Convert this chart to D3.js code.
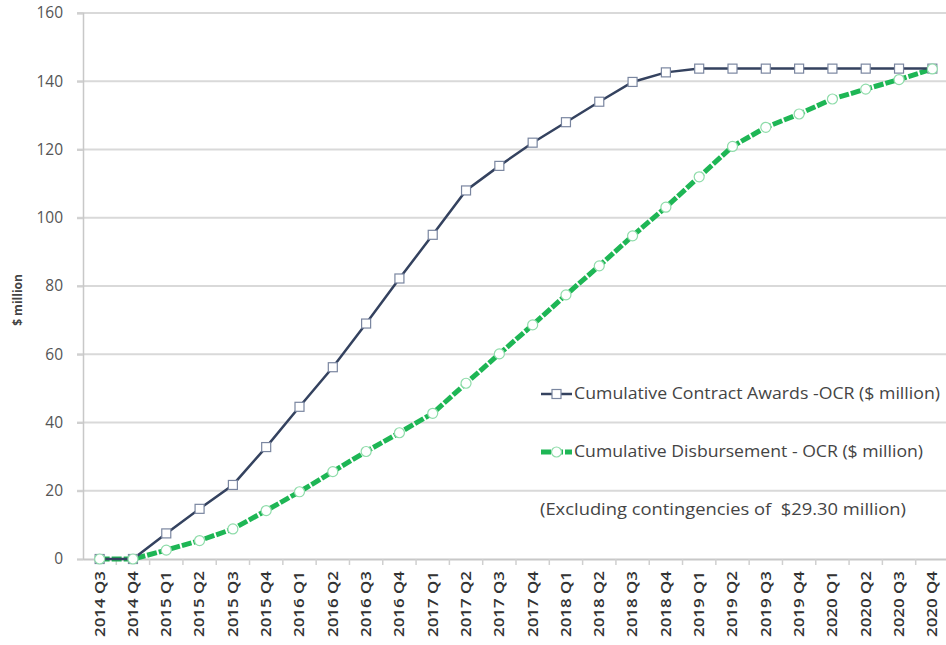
<!DOCTYPE html>
<html><head><meta charset="utf-8">
<script src="https://cdn.jsdelivr.net/npm/d3@7/dist/d3.min.js"></script>
<style>body{margin:0;background:#fff}svg{display:block}</style>
</head><body><svg id="c" width="946" height="645"></svg>
<script>
const quarters = ["2014 Q3","2014 Q4","2015 Q1","2015 Q2","2015 Q3","2015 Q4","2016 Q1","2016 Q2","2016 Q3","2016 Q4","2017 Q1","2017 Q2","2017 Q3","2017 Q4","2018 Q1","2018 Q2","2018 Q3","2018 Q4","2019 Q1","2019 Q2","2019 Q3","2019 Q4","2020 Q1","2020 Q2","2020 Q3","2020 Q4"];
const contractAwards = [0,0,7.5,14.7,21.7,32.8,44.6,56.2,69.0,82.2,95.0,108.0,115.2,122.0,128.0,134.0,139.8,142.6,143.7,143.7,143.7,143.7,143.7,143.7,143.7,143.7];
const disbursement = [0,0,2.6,5.4,8.8,14.2,19.7,25.6,31.5,37.0,42.7,51.5,60.1,68.6,77.4,85.9,94.7,103.1,112.0,120.9,126.5,130.4,134.8,137.7,140.5,143.6];
const yTicks = [0,20,40,60,80,100,120,140,160];
const seriesNames = ["Cumulative Contract Awards -OCR ($ million)","Cumulative Disbursement - OCR ($ million)"];
const note = "(Excluding contingencies of  $29.30 million)";
const yTitle = "$ million";

(function(){
const svg = d3.select("#c");
const font = "'Open Sans', sans-serif";
const pL = 83, pR = 949, pT = 13, pB = 559;
const x = d3.scaleBand().domain(quarters).range([pL, pR]);
const y = d3.scaleLinear().domain([0,160]).range([pB, pT]);

// gridlines
svg.append("g").selectAll("line").data(yTicks.filter(d=>d>0)).join("line")
  .attr("x1", pL-6).attr("x2", 946).attr("y1", d=>y(d)).attr("y2", d=>y(d))
  .attr("stroke","#d9d9d9").attr("stroke-width",2);

// y axis
const ya = svg.append("g").attr("transform",`translate(${pL},0)`)
  .call(d3.axisLeft(y).tickValues(yTicks).tickSize(6).tickPadding(14));
ya.select(".domain").attr("stroke","#c8c8c8").attr("stroke-width",1.5);
ya.selectAll(".tick line").attr("stroke","#d0d0d0").attr("stroke-width",2);
ya.selectAll("text").attr("font-family",font).attr("font-size",15.5).attr("fill","#555");

// x axis
const xa = svg.append("g").attr("transform",`translate(0,${pB})`)
  .call(d3.axisBottom(x).tickSize(0).tickSizeOuter(0));
xa.select(".domain").attr("stroke","#c8c8c8").attr("stroke-width",2);
xa.selectAll("text").attr("font-family",font).attr("font-size",14).attr("fill","#333")
  .attr("font-weight",600)
  .attr("text-anchor","end").attr("transform","rotate(-90)").attr("x",-12).attr("y",0).attr("dy","0.35em")
  .attr("textLength",66).attr("lengthAdjust","spacingAndGlyphs");
// tick marks at band boundaries
svg.append("g").selectAll("line").data(quarters).join("line")
  .attr("x1", d=>x(d)+x.bandwidth()).attr("x2", d=>x(d)+x.bandwidth())
  .attr("y1", pB).attr("y2", pB+6).attr("stroke","#d0d0d0").attr("stroke-width",1.5);

// y title
svg.append("text").attr("transform","translate(22,300) rotate(-90)")
  .attr("text-anchor","middle").attr("font-family",font).attr("font-size",12).attr("font-weight","bold")
  .attr("fill","#444").text(yTitle);

const cx = d => x(d) + x.bandwidth()/2;
const navy = "#34425f", green = "#1eb655";

const line = vals => d3.line().x((d,i)=>cx(quarters[i])).y(d=>y(d))(vals);

svg.append("path").attr("d", line(disbursement)).attr("fill","none")
  .attr("stroke",green).attr("stroke-width",5).attr("stroke-dasharray","10,2");
svg.append("path").attr("d", line(contractAwards)).attr("fill","none")
  .attr("stroke",navy).attr("stroke-width",2.5);

svg.append("g").selectAll("rect").data(contractAwards).join("rect")
  .attr("x",(d,i)=>cx(quarters[i])-4.5).attr("y",d=>y(d)-4.5).attr("width",9).attr("height",9)
  .attr("fill","#fff").attr("stroke","#7a86a0").attr("stroke-width",1.2);
svg.append("g").selectAll("circle").data(disbursement).join("circle")
  .attr("cx",(d,i)=>cx(quarters[i])).attr("cy",d=>y(d)).attr("r",5)
  .attr("fill","#fff").attr("stroke","#8fdcaa").attr("stroke-width",1.2);

// legend
const lg = svg.append("g");
const tx = (sel, xx, yy, s, len) => sel.append("text").attr("x",xx).attr("y",yy).attr("dy","0.35em")
  .attr("font-family",font).attr("font-size",15.5).attr("fill","#444").style("white-space","pre")
  .attr("textLength",len).attr("lengthAdjust","spacingAndGlyphs").text(s);
lg.append("line").attr("x1",541).attr("x2",572).attr("y1",394).attr("y2",394).attr("stroke",navy).attr("stroke-width",2.5);
lg.append("rect").attr("x",552).attr("y",389.5).attr("width",9).attr("height",9).attr("fill","#fff").attr("stroke","#7a86a0").attr("stroke-width",1.2);
tx(lg, 574, 394, seriesNames[0], 366);
lg.append("line").attr("x1",541).attr("x2",572).attr("y1",452).attr("y2",452).attr("stroke",green).attr("stroke-width",5).attr("stroke-dasharray","10,2");
lg.append("circle").attr("cx",556.5).attr("cy",452).attr("r",5).attr("fill","#fff").attr("stroke","#8fdcaa").attr("stroke-width",1.2);
tx(lg, 574, 452, seriesNames[1], 349);
tx(lg, 540, 510, note, 366);
})();
</script></body></html>
